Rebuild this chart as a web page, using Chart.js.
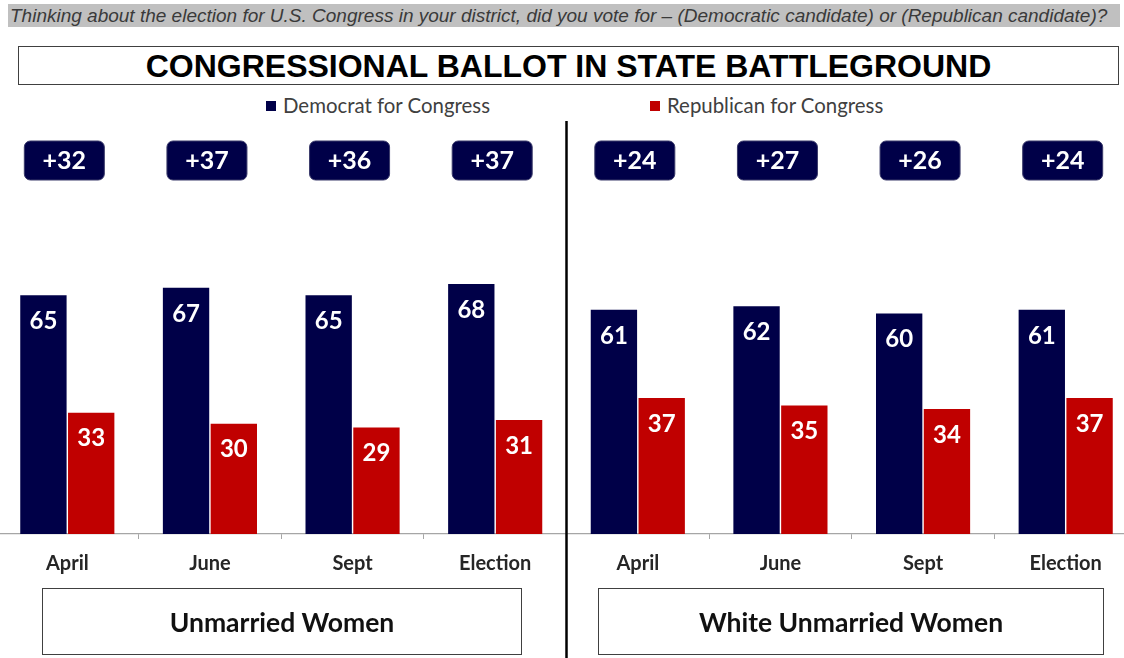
<!DOCTYPE html>
<html lang="en">
<head>
  <meta charset="UTF-8" />
  <title>Congressional Ballot in State Battleground</title>
  <style>
    html, body { margin: 0; padding: 0; background: #fff; overflow: hidden; }
    body { width: 1124px; height: 658px; position: relative; font-family: Lato, "Open Sans", sans-serif; }
    #question { position: absolute; left: 8px; top: 4px; width: 1110px; height: 23px; background: #c0c0c0; color: #3a3a3a;
      font: italic 19px "Liberation Sans", Arial, sans-serif; line-height: 23px; white-space: nowrap; padding-left: 2px; }
    #title { position: absolute; left: 18px; top: 46px; width: 1099px; height: 37px; border: 1.5px solid #404040;
      font: bold 32px "Liberation Sans", Arial, sans-serif; text-align: center; line-height: 39px; color: #000; }
    .legend { position: absolute; top: 93px; font-size: 20.4px; color: #404040; line-height: 24px; white-space: nowrap; }
    .legend span { display: inline-block; width: 10px; height: 10px; margin-right: 7px; vertical-align: 2px; }
    .group { position: absolute; top: 588px; height: 65px; border: 1.5px solid #404040; text-align: center;
      font-weight: bold; font-size: 26.5px; line-height: 66px; color: #111; }
    #wrap { position: absolute; left: -4px; top: 0; width: 1141px; height: 658px; }
  </style>
  <script src="https://cdn.jsdelivr.net/npm/chart.js"></script>
</head>
<body>
  <div id="question">Thinking about the election for U.S. Congress in your district, did you vote for – (Democratic candidate) or (Republican candidate)?</div>
  <div id="title">CONGRESSIONAL BALLOT IN STATE BATTLEGROUND</div>
  <div class="legend" style="left:266px;"><span style="background:#000048;"></span>Democrat for Congress</div>
  <div class="legend" style="left:650px;"><span style="background:#c00000;"></span>Republican for Congress</div>
  <div id="wrap"><canvas id="ballot" width="1141" height="658"></canvas></div>
  <div class="group" style="left:42px; width:478px;">Unmarried Women</div>
  <div class="group" style="left:598px; width:504px;">White Unmarried Women</div>

  <script>
    const months = ["April", "June", "Sept", "Election", "April", "June", "Sept", "Election"];
    const demVotes = [65, 67, 65, 68, 61, 62, 60, 61];
    const repVotes = [33, 30, 29, 31, 37, 35, 34, 37];
    const leads = ["+32", "+37", "+36", "+37", "+24", "+27", "+26", "+24"];

    const navy = "#000048";
    const red = "#c00000";

    // bar values, lead boxes and the panel divider
    const extras = {
      id: "extras",
      afterDatasetsDraw(chart) {
        const ctx = chart.ctx;
        const x = chart.scales.x;
        ctx.save();
        ctx.fillStyle = "#fff";
        ctx.font = "bold 24px Lato, sans-serif";
        ctx.textAlign = "center";
        ctx.textBaseline = "middle";
        chart.data.datasets.forEach((ds, i) => {
          chart.getDatasetMeta(i).data.forEach((bar, j) => {
            ctx.fillText(ds.data[j], bar.x, bar.y + 26);
          });
        });

        leads.forEach((lead, i) => {
          const cx = x.getPixelForValue(i) - 3;
          ctx.beginPath();
          ctx.roundRect(cx - 40, 141, 80, 39, 6);
          ctx.fillStyle = navy;
          ctx.fill();
          ctx.strokeStyle = "#3a3a6a";
          ctx.lineWidth = 1;
          ctx.stroke();
          ctx.fillStyle = "#fff";
          ctx.font = "bold 25px Lato, sans-serif";
          ctx.fillText(lead, cx, 161);
        });

        const mid = (x.getPixelForValue(3) + x.getPixelForValue(4)) / 2;
        ctx.beginPath();
        ctx.moveTo(mid, 121);
        ctx.lineTo(mid, 658);
        ctx.strokeStyle = "#000";
        ctx.lineWidth = 2.5;
        ctx.stroke();
        ctx.restore();
      }
    };

    new Chart(document.getElementById("ballot"), {
      type: "bar",
      data: {
        labels: months,
        datasets: [
          { label: "Democrat for Congress", data: demVotes, backgroundColor: navy },
          { label: "Republican for Congress", data: repVotes, backgroundColor: red }
        ]
      },
      options: {
        responsive: false,
        animation: false,
        layout: { padding: { top: 166.5, left: 0, right: 0, bottom: 0 } },
        categoryPercentage: 0.67,
        barPercentage: 0.97,
        plugins: { legend: { display: false }, tooltip: { enabled: false } },
        scales: {
          x: {
            afterFit(scale) { scale.height = 124; },
            grid: { drawOnChartArea: false, tickLength: 5, color: "#a6a6a6", offset: true },
            border: { color: "#a6a6a6", width: 1.2 },
            ticks: { color: "#262626", font: { family: "Lato", size: 20, weight: "bold" }, padding: 13 }
          },
          y: { display: false, min: 0, max: 100 }
        }
      },
      plugins: [extras]
    });
  </script>
</body>
</html>
